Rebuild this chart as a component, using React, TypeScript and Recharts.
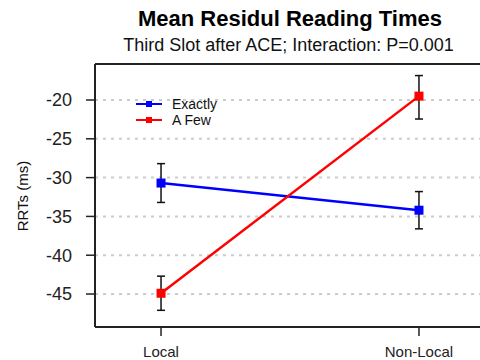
import { LineChart, Line, XAxis, YAxis, CartesianGrid, ErrorBar, ReferenceLine } from 'recharts';

const categories = ['Local', 'Non-Local'];
const exactly = [-30.7, -34.2];
const exactlyErr = [2.5, 2.4];
const aFew = [-44.9, -19.5];
const aFewErr: [number, number][] = [
  [2.2, 2.2],
  [2.95, 2.65],
];
const yTicks = [-45, -40, -35, -30, -25, -20];

const data = categories.map((name, i) => ({
  pos: i + 1,
  name,
  exactly: exactly[i],
  exactlyErr: exactlyErr[i],
  aFew: aFew[i],
  aFewErr: aFewErr[i],
}));

const FONT = '"Liberation Sans", Arial, sans-serif';

const squareDot = (color: string, size: number) => (props: any) => {
  const { cx, cy, index } = props;
  return <rect key={`dot-${index}`} x={cx - size / 2} y={cy - size / 2} width={size} height={size} fill={color} />;
};

const legendItems = [
  { label: 'Exactly', color: '#0000ff' },
  { label: 'A Few', color: '#ff0000' },
];

export default function App() {
  return (
    <div
      style={{
        position: 'absolute',
        left: 0,
        top: 0,
        width: 480,
        height: 360,
        overflow: 'hidden',
        background: '#fff',
        fontFamily: FONT,
      }}
    >
      <LineChart width={490} height={360} data={data} margin={{ top: 64, right: 5, bottom: 0, left: 45 }}>
        <CartesianGrid vertical={false} stroke="#cccccc" strokeWidth={2} strokeDasharray="3 5" />
        <XAxis
          type="number"
          dataKey="pos"
          domain={[0.744, 2.256]}
          ticks={[1, 2]}
          tickFormatter={(v) => categories[v - 1]}
          allowDataOverflow
          height={33}
          tickSize={9}
          tickMargin={10}
          axisLine={{ stroke: '#222', strokeWidth: 2 }}
          tickLine={{ stroke: '#222', strokeWidth: 1.5 }}
          tick={{ fill: '#222', fontSize: 15, fontFamily: FONT }}
        />
        <YAxis
          type="number"
          domain={[-49.25, -15.36]}
          ticks={yTicks}
          allowDataOverflow
          width={50}
          tickSize={9}
          tickMargin={14}
          axisLine={{ stroke: '#222', strokeWidth: 2 }}
          tickLine={{ stroke: '#222', strokeWidth: 1.5 }}
          tick={{ fill: '#222', fontSize: 18, fontFamily: FONT }}
        />
        <ReferenceLine y={-15.36} stroke="#222" strokeWidth={2} ifOverflow="visible" />
        <Line
          dataKey="exactly"
          stroke="#0000ff"
          strokeWidth={2.5}
          dot={squareDot('#0000ff', 9)}
          activeDot={false}
          isAnimationActive={false}
        >
          <ErrorBar dataKey="exactlyErr" direction="y" width={4} stroke="#111" strokeWidth={1.5} />
        </Line>
        <Line
          dataKey="aFew"
          stroke="#ff0000"
          strokeWidth={2.5}
          dot={squareDot('#ff0000', 9)}
          activeDot={false}
          isAnimationActive={false}
        >
          <ErrorBar dataKey="aFewErr" direction="y" width={4} stroke="#111" strokeWidth={1.5} />
        </Line>
      </LineChart>

      <div
        style={{
          position: 'absolute',
          left: 0,
          width: 580,
          top: 8,
          textAlign: 'center',
          fontSize: 22,
          lineHeight: '22px',
          fontWeight: 'bold',
          color: '#000',
          whiteSpace: 'nowrap',
        }}
      >
        Mean Residul Reading Times
      </div>
      <div
        style={{
          position: 'absolute',
          left: 0,
          width: 577,
          top: 36,
          textAlign: 'center',
          fontSize: 18,
          lineHeight: '18px',
          color: '#111',
          whiteSpace: 'nowrap',
        }}
      >
        Third Slot after ACE; Interaction: P=0.001
      </div>
      <div
        style={{
          position: 'absolute',
          left: 22,
          top: 196,
          transform: 'translate(-50%, -50%) rotate(-90deg)',
          fontSize: 15,
          lineHeight: '15px',
          color: '#111',
          whiteSpace: 'nowrap',
        }}
      >
        RRTs (ms)
      </div>

      {legendItems.map((item, i) => (
        <div
          key={item.label}
          style={{
            position: 'absolute',
            left: 136,
            top: 97 + i * 16,
            height: 14,
            display: 'flex',
            alignItems: 'center',
            fontSize: 14,
            lineHeight: '14px',
            color: '#111',
          }}
        >
          <svg width={26} height={14} style={{ marginRight: 10 }}>
            <line x1={0} y1={7} x2={26} y2={7} stroke={item.color} strokeWidth={2} />
            <rect x={10} y={4} width={6} height={6} fill={item.color} />
          </svg>
          {item.label}
        </div>
      ))}
    </div>
  );
}
